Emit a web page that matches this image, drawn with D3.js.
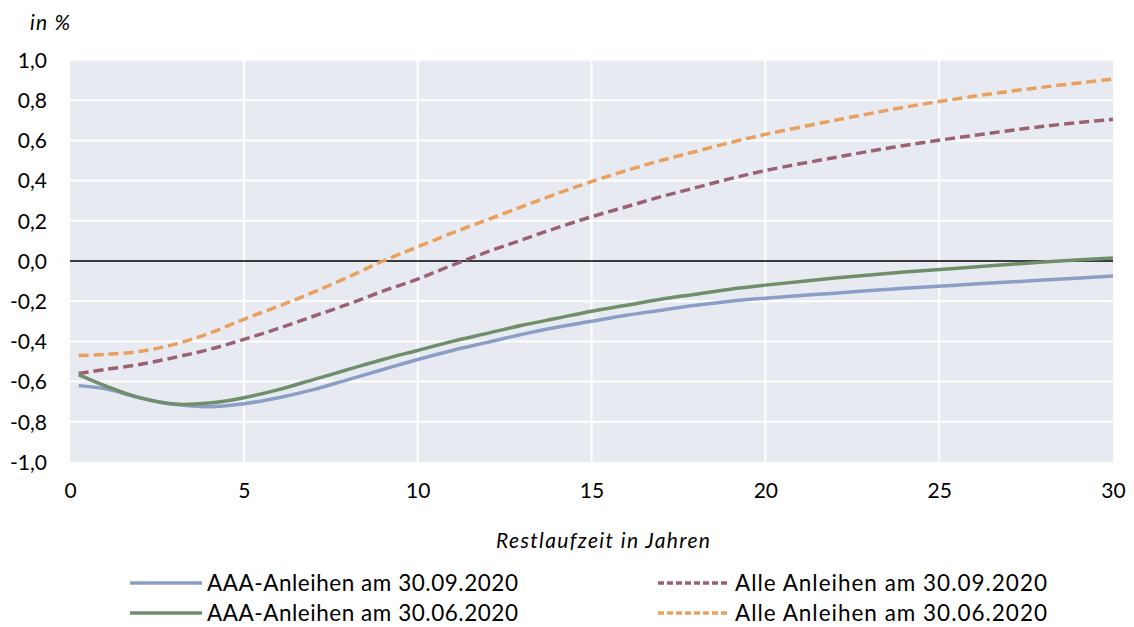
<!DOCTYPE html>
<html><head><meta charset="utf-8">
<script src="https://cdn.jsdelivr.net/npm/d3@7"></script>
<style>body{margin:0;background:#fff}svg{display:block}text{font-family:Lato,"Open Sans",sans-serif;fill:#000}</style>
</head><body><svg id="c" width="1134" height="627"></svg>
<script>
const maturities = [0.25,1,2,3,4,5,6,7,8,9,10,11,12,13,14,15,16,17,18,19,20,22,24,26,28,30];
const aaaSep = [-0.62,-0.635,-0.68,-0.713,-0.725,-0.71,-0.68,-0.64,-0.59,-0.54,-0.49,-0.445,-0.405,-0.365,-0.33,-0.30,-0.27,-0.245,-0.22,-0.20,-0.185,-0.16,-0.135,-0.115,-0.095,-0.075];
const aaaJun = [-0.565,-0.62,-0.68,-0.712,-0.707,-0.68,-0.64,-0.59,-0.54,-0.49,-0.445,-0.40,-0.36,-0.32,-0.285,-0.25,-0.22,-0.19,-0.165,-0.14,-0.12,-0.085,-0.055,-0.03,-0.005,0.015];
const allSep = [-0.56,-0.54,-0.515,-0.48,-0.44,-0.39,-0.335,-0.275,-0.215,-0.15,-0.09,-0.02,0.045,0.105,0.165,0.22,0.27,0.32,0.365,0.41,0.45,0.515,0.575,0.625,0.67,0.705];
const allJun = [-0.47,-0.465,-0.45,-0.415,-0.36,-0.29,-0.225,-0.155,-0.08,0.0,0.07,0.14,0.205,0.27,0.335,0.395,0.45,0.50,0.545,0.59,0.63,0.70,0.765,0.82,0.865,0.905];
const seriesNames = ["AAA-Anleihen am 30.09.2020","AAA-Anleihen am 30.06.2020","Alle Anleihen am 30.09.2020","Alle Anleihen am 30.06.2020"];
const xTicks = [0,5,10,15,20,25,30];
const yTicks = [-1,-0.8,-0.6,-0.4,-0.2,0,0.2,0.4,0.6,0.8,1];

const svg = d3.select("#c");
const x = d3.scaleLinear().domain([0,30]).range([70,1113]);
const y = d3.scaleLinear().domain([-1,1]).range([462,60]);
const fmt = v => d3.format(".1f")(v).replace(".",",").replace("−","-");

svg.append("rect").attr("x",x(0)).attr("y",y(1)).attr("width",x(30)-x(0)).attr("height",y(-1)-y(1)).attr("fill","#e8eaf1");
svg.append("rect").attr("x",x(0)).attr("y",y(1)).attr("width",x(30)-x(0)).attr("height",1.5).attr("fill","#f4f5f8");
svg.selectAll(".vg").data(xTicks.filter(d=>d>0&&d<30)).enter().append("line")
  .attr("x1",d=>x(d)).attr("x2",d=>x(d)).attr("y1",y(1)).attr("y2",y(-1)).attr("stroke","#fff").attr("stroke-width",2);
svg.selectAll(".hg").data(yTicks.filter(d=>d>-1&&d<1&&d!==0)).enter().append("line")
  .attr("x1",x(0)).attr("x2",x(30)).attr("y1",d=>y(d)).attr("y2",d=>y(d)).attr("stroke","#fff").attr("stroke-width",2);
svg.append("line").attr("x1",x(0)).attr("x2",x(30)).attr("y1",y(0)).attr("y2",y(0)).attr("stroke","#000").attr("stroke-width",1.5);

const yAxis = d3.axisLeft(y).tickValues(yTicks).tickFormat(fmt).tickSize(0).tickPadding(0);
const gy = svg.append("g").attr("transform","translate(47,0)").call(yAxis);
gy.select(".domain").remove();
gy.selectAll("text").attr("font-size",21).attr("dy","0.35em").style("font-family","Lato,sans-serif");
const xAxis = d3.axisBottom(x).tickValues(xTicks).tickFormat(d3.format("d")).tickSize(0).tickPadding(0);
const gx = svg.append("g").attr("transform","translate(0,483)").call(xAxis);
gx.select(".domain").remove();
gx.selectAll("text").attr("font-size",21).attr("dy","0.71em").style("font-family","Lato,sans-serif");

const colors = ["#8a9ec6","#6f8f6b","#9a6270","#e9a05f"];
const dashes = [null,null,"10,5","10,5"];
const data = [aaaSep,aaaJun,allSep,allJun];
const line = d3.line().x(d=>x(d[0])).y(d=>y(d[1])).curve(d3.curveCatmullRom.alpha(0.5));
[3,2,0,1].forEach(i=>{
  svg.append("path").datum(maturities.map((m,j)=>[m,data[i][j]]))
    .attr("d",line).attr("fill","none").attr("stroke",colors[i]).attr("stroke-width",3.5)
    .attr("stroke-dasharray",dashes[i]);
});

svg.append("text").attr("x",30).attr("y",30).attr("font-size",21).attr("font-style","italic")
  .attr("textLength",40).attr("lengthAdjust","spacing").text("in %");
svg.append("text").attr("x",496).attr("y",548).attr("font-size",21).attr("font-style","italic")
  .attr("textLength",214).attr("lengthAdjust","spacing").text("Restlaufzeit in Jahren");

const legPos = [[130,583],[130,613],[658,583],[658,613]];
seriesNames.forEach((n,i)=>{
  const [lx,ly] = legPos[i];
  svg.append("line").attr("x1",lx).attr("x2",lx+72).attr("y1",ly).attr("y2",ly)
    .attr("stroke",colors[i]).attr("stroke-width",3.5).attr("stroke-dasharray",dashes[i]?"6,3":null);
  svg.append("text").attr("x",lx+77).attr("y",ly).attr("dy","0.35em").attr("font-size",22.5)
    .attr("textLength",i<2?311:312).attr("lengthAdjust","spacing").text(n);
});
</script></body></html>
